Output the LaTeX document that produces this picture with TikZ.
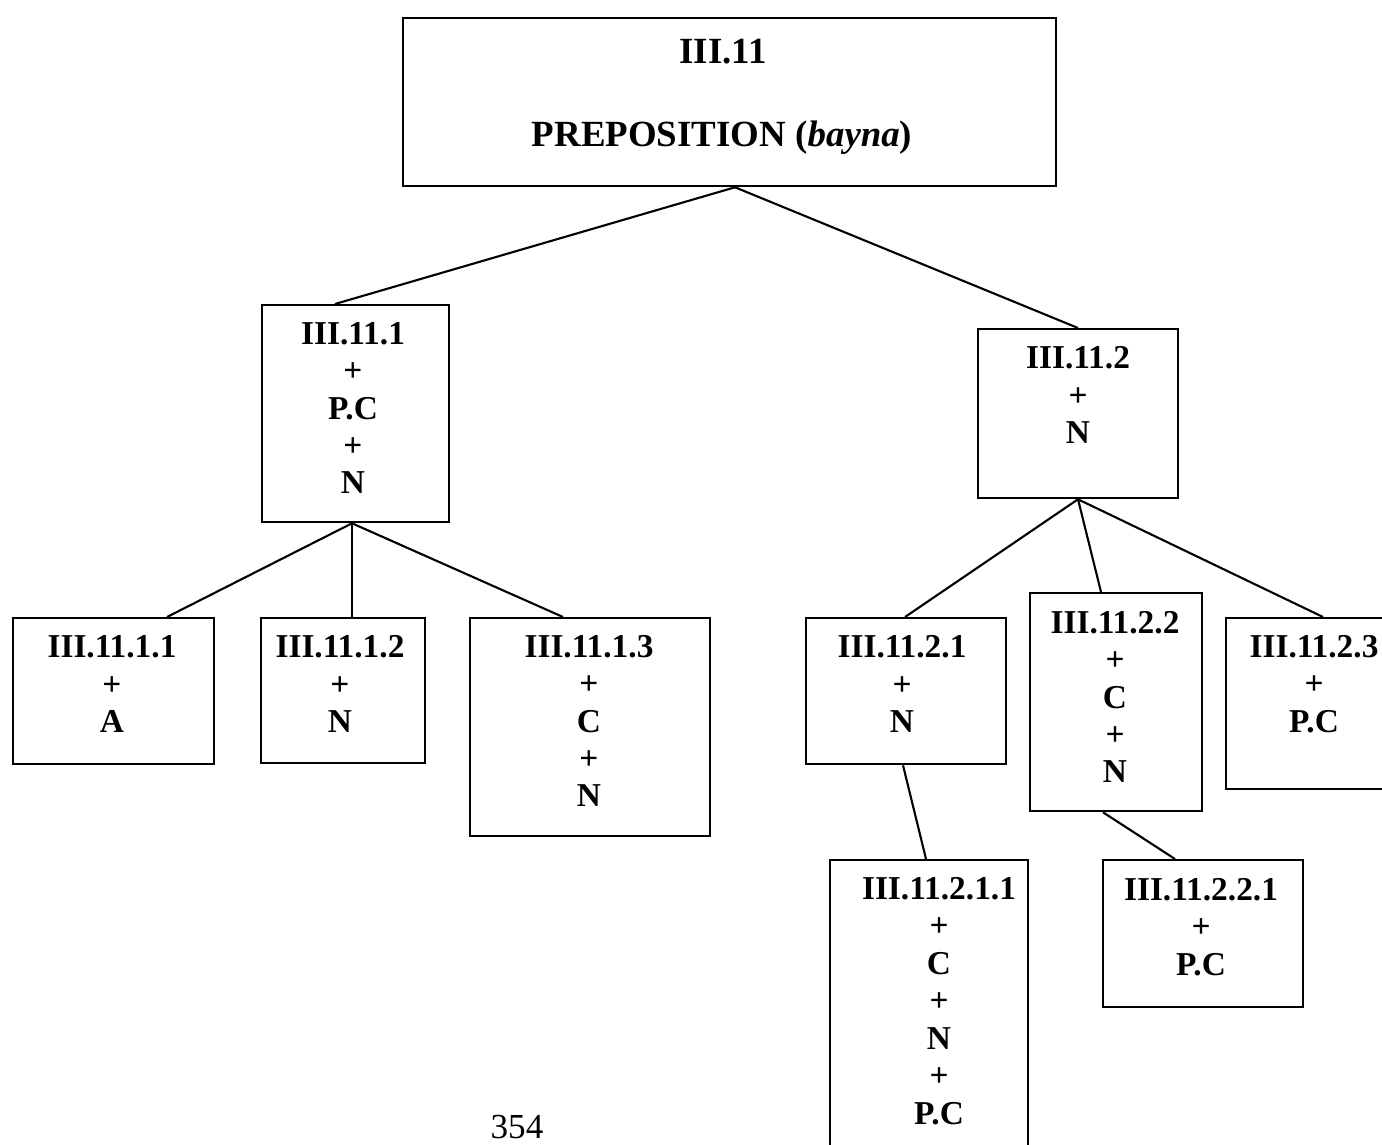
\documentclass[tikz,border=0pt]{standalone}
\usepackage{fontspec}
\setmainfont{Liberation Serif}
\usetikzlibrary{calc}
\begin{document}
\begin{tikzpicture}[x=0.02cm,y=-0.02cm,
  box/.style={draw, line width=1.3pt, inner sep=0pt, anchor=north west},
  sz/.style 2 args={minimum width=#1*0.02cm, minimum height=#2*0.02cm},
  txt/.style={align=center, inner sep=0pt, font=\fontsize{19}{21.3}\selectfont\bfseries},
  toptxt/.style={inner sep=0pt, font=\fontsize{21}{24}\selectfont\bfseries},
  link/.style={line width=1.2pt}]
\useasboundingbox (0,0) rectangle (1382,1145);
\clip (0,0) rectangle (1382,1145);

% boxes
\node[box, sz={653}{168}] (top) at (402,17) {};
\node[box, sz={187}{217}] (A)   at (261,304) {};
\node[box, sz={200}{169}] (B)   at (977,328) {};
\node[box, sz={201}{146}] (A1)  at (12,617) {};
\node[box, sz={164}{145}] (A2)  at (260,617) {};
\node[box, sz={240}{218}] (A3)  at (469,617) {};
\node[box, sz={200}{146}] (B1)  at (805,617) {};
\node[box, sz={172}{218}] (B2)  at (1029,592) {};
\node[box, sz={180}{171}] (B3)  at (1225,617) {};
\node[box, sz={198}{320}] (B11) at (829,859) {};
\node[box, sz={200}{147}] (B21) at (1102,859) {};

% labels
\node[toptxt] (topa) at (723,52) {III.11};
\node[toptxt] (topb) at (722,138) {PREPOSITION (\textit{bayna})};
\node[txt] (At)   at (353,408) {III.11.1\\+\\P.C\\+\\N};
\node[txt] (Bt)   at (1078,395) {III.11.2\\+\\N};
\node[txt] (A1t)  at (112,684) {III.11.1.1\\+\\A};
\node[txt] (A2t)  at (340,684) {III.11.1.2\\+\\N};
\node[txt] (A3t)  at (589,721) {III.11.1.3\\+\\C\\+\\N};
\node[txt] (B1t)  at (902,684) {III.11.2.1\\+\\N};
\node[txt] (B2t)  at (1115,697) {III.11.2.2\\+\\C\\+\\N};
\node[txt] (B3t)  at (1314,684) {III.11.2.3\\+\\P.C};
\node[txt] (B11t) at (939,1001) {III.11.2.1.1\\+\\C\\+\\N\\+\\P.C};
\node[txt] (B21t) at (1201,927) {III.11.2.2.1\\+\\P.C};
\node[inner sep=0pt, anchor=base, font=\fontsize{20}{24}\selectfont] (page) at (517,1138) {354};

% connectors
\draw[link] ($(top.south west)+(333,0)$) -- ($(A.north west)+(74,0)$);
\draw[link] ($(top.south west)+(333,0)$) -- ($(B.north west)+(101,0)$);
\draw[link] ($(A.south west)+(91,0)$) -- ($(A1.north west)+(155,0)$);
\draw[link] ($(A.south west)+(91,0)$) -- ($(A2.north west)+(92,0)$);
\draw[link] ($(A.south west)+(91,0)$) -- ($(A3.north west)+(94,0)$);
\draw[link] ($(B.south west)+(101,0)$) -- ($(B1.north west)+(100,0)$);
\draw[link] ($(B.south west)+(101,0)$) -- ($(B2.north west)+(72,0)$);
\draw[link] ($(B.south west)+(101,0)$) -- ($(B3.north west)+(98,0)$);
\draw[link] ($(B1.south west)+(98,0)$) -- ($(B11.north west)+(97,0)$);
\draw[link] ($(B2.south west)+(74,0)$) -- ($(B21.north west)+(73,0)$);
\end{tikzpicture}
\end{document}
